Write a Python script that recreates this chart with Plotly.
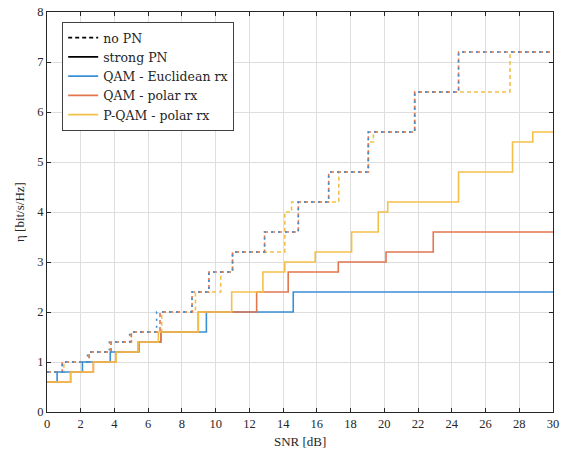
import plotly.graph_objects as go

# ---- data (SNR thresholds [dB] where each level starts, spectral efficiency levels) ----
x_end = 30

qam_euc_noPN_snr = [0, 0.9, 2.4, 3.7, 4.9, 6.5, 8.6, 9.6, 11.0, 12.9, 14.9, 16.7, 19.05, 21.8, 24.4]
qam_euc_noPN_eta = [0.8, 1.0, 1.2, 1.4, 1.6, 2.0, 2.4, 2.8, 3.2, 3.6, 4.2, 4.8, 5.6, 6.4, 7.2]

qam_pol_noPN_snr = [0, 0.9, 2.5, 3.8, 5.0, 6.7, 8.6, 9.6, 11.0, 12.9, 14.9, 16.7, 19.05, 21.8, 24.4]
qam_pol_noPN_eta = [0.8, 1.0, 1.2, 1.4, 1.6, 2.0, 2.4, 2.8, 3.2, 3.6, 4.2, 4.8, 5.6, 6.4, 7.2]

pqam_pol_noPN_snr = [0, 1.0, 2.5, 3.8, 5.0, 6.8, 8.8, 10.3, 11.0, 14.1, 14.5, 17.3, 19.05, 19.35, 21.8, 27.45]
pqam_pol_noPN_eta = [0.8, 1.0, 1.2, 1.4, 1.6, 2.0, 2.4, 2.8, 3.2, 4.0, 4.2, 4.8, 5.4, 5.6, 6.4, 7.2]

qam_euc_PN_snr = [0, 0.6, 2.1, 3.75, 5.45, 6.75, 9.45, 14.6]
qam_euc_PN_eta = [0.6, 0.8, 1.0, 1.2, 1.4, 1.6, 2.0, 2.4]

qam_pol_PN_snr = [0, 1.4, 2.75, 4.1, 5.4, 6.75, 8.97, 12.43, 14.3, 17.27, 20.1, 22.9]
qam_pol_PN_eta = [0.6, 0.8, 1.0, 1.2, 1.4, 1.6, 2.0, 2.4, 2.8, 3.0, 3.2, 3.6]

pqam_pol_PN_snr = [0, 1.4, 2.75, 4.1, 5.4, 6.6, 8.97, 10.95, 12.8, 14.1, 15.9, 18.06, 19.64, 20.2, 24.4, 27.6, 28.8]
pqam_pol_PN_eta = [0.6, 0.8, 1.0, 1.2, 1.4, 1.6, 2.0, 2.4, 2.8, 3.0, 3.2, 3.6, 4.0, 4.2, 4.8, 5.4, 5.6]

x_ticks = list(range(0, 31, 2))
y_ticks = list(range(0, 9))

BLUE = "#3a8fd3"
ORANGE = "#e2764f"
YELLOW = "#f3c04a"
FONT = "Liberation Serif, Times New Roman, DejaVu Serif, serif"
LFONT = "DejaVu Serif, serif"
DASH = "4px,3px"


def steps(snr, eta):
    return list(snr) + [x_end], list(eta) + [eta[-1]]


fig = go.Figure()

series = [
    (pqam_pol_noPN_snr, pqam_pol_noPN_eta, YELLOW, DASH),
    (qam_pol_noPN_snr, qam_pol_noPN_eta, ORANGE, DASH),
    (qam_euc_noPN_snr, qam_euc_noPN_eta, BLUE, "2px,5px"),
    (qam_euc_PN_snr, qam_euc_PN_eta, BLUE, "solid"),
    (qam_pol_PN_snr, qam_pol_PN_eta, ORANGE, "solid"),
    (pqam_pol_PN_snr, pqam_pol_PN_eta, YELLOW, "solid"),
]
for s, e, c, d in series:
    xs, ys = steps(s, e)
    fig.add_trace(go.Scatter(x=xs, y=ys, mode="lines", line=dict(color=c, width=1.6, dash=d, shape="hv"),
                             showlegend=False, hoverinfo="skip"))

legend_items = [
    ("no PN", "black", DASH),
    ("strong PN", "black", "solid"),
    ("QAM - Euclidean rx", BLUE, "solid"),
    ("QAM - polar rx", ORANGE, "solid"),
    ("P-QAM - polar rx", YELLOW, "solid"),
]
for name, c, d in legend_items:
    fig.add_trace(go.Scatter(x=[None], y=[None], mode="lines", name=name,
                             line=dict(color=c, width=1.6, dash=d)))

axis_common = dict(
    showline=True, linecolor="#262626", linewidth=1, mirror="ticks",
    ticks="inside", ticklen=4, tickcolor="#262626",
    showgrid=True, gridcolor="#dedede", gridwidth=1, zeroline=False,
    tickfont=dict(family=FONT, size=12.5, color="#262626"),
    automargin=False,
)

fig.update_layout(
    width=564, height=450,
    margin=dict(l=47, r=11, t=12, b=38),
    paper_bgcolor="white", plot_bgcolor="white",
    font=dict(family=FONT, size=12, color="#262626"),
    xaxis=dict(range=[0, 30], tickvals=x_ticks, **axis_common),
    yaxis=dict(range=[0, 8], tickvals=y_ticks, **axis_common),
    legend=dict(x=0.03, y=0.975, xanchor="left", yanchor="top", bgcolor="white",
                bordercolor="#404040", borderwidth=1, font=dict(family=LFONT, size=12.5, color="#262626"),
                itemwidth=30, tracegroupgap=0),
    showlegend=True,
    annotations=[
        dict(text="SNR [dB]", x=0.5, y=0, xref="paper", yref="paper", xanchor="center", yanchor="middle",
             yshift=-29, showarrow=False, font=dict(family=FONT, size=13, color="#262626")),
        dict(text="η [bit/s/Hz]", x=0, y=0.5, xref="paper", yref="paper", xanchor="center", yanchor="middle",
             xshift=-28, textangle=-90, showarrow=False, font=dict(family=FONT, size=13, color="#262626")),
    ],
)

fig.write_html("out.html")
